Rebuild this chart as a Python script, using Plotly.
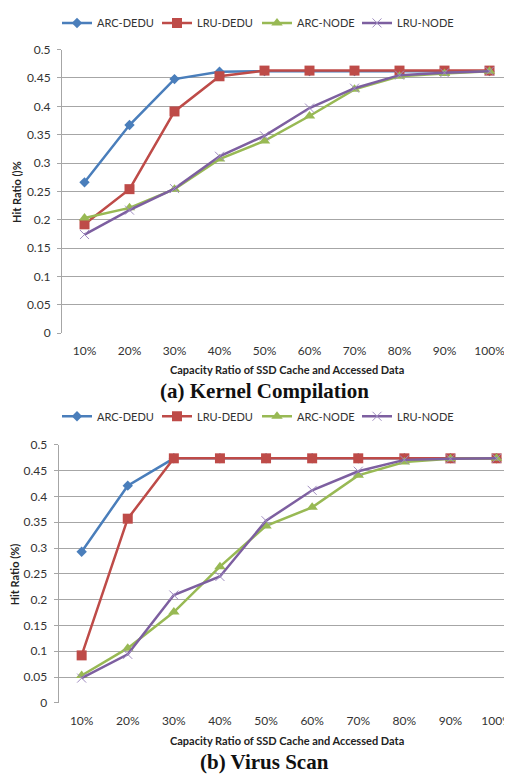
import plotly.graph_objects as go

categories = ["10%", "20%", "30%", "40%", "50%", "60%", "70%", "80%", "90%", "100%"]
series_names = ["ARC-DEDU", "LRU-DEDU", "ARC-NODE", "LRU-NODE"]

# (a) Kernel Compilation
kc_arc_dedu = [0.266, 0.367, 0.448, 0.461, 0.462, 0.462, 0.462, 0.462, 0.462, 0.462]
kc_lru_dedu = [0.192, 0.254, 0.391, 0.453, 0.463, 0.463, 0.463, 0.463, 0.463, 0.463]
kc_arc_node = [0.203, 0.221, 0.254, 0.307, 0.339, 0.383, 0.430, 0.453, 0.458, 0.462]
kc_lru_node = [0.174, 0.217, 0.255, 0.312, 0.348, 0.397, 0.432, 0.455, 0.459, 0.462]

# (b) Virus Scan
vs_arc_dedu = [0.293, 0.421, 0.474, 0.474, 0.474, 0.474, 0.474, 0.474, 0.474, 0.474]
vs_lru_dedu = [0.092, 0.357, 0.474, 0.474, 0.474, 0.474, 0.474, 0.474, 0.474, 0.474]
vs_arc_node = [0.053, 0.106, 0.176, 0.264, 0.343, 0.379, 0.441, 0.467, 0.473, 0.474]
vs_lru_node = [0.048, 0.094, 0.209, 0.245, 0.353, 0.412, 0.449, 0.471, 0.473, 0.474]

colors = ["#4A7EBB", "#BE4B48", "#98B954", "#7D5FA0"]
symbols = ["diamond", "square", "triangle-up", "x-thin"]
msizes = [8, 10, 10, 9]

FONT = "Lato"
W, H, OFF = 504, 766, 8   # page body margin of 8px


def xp(p):
    return (p - OFF) / W


def yp(p):
    return 1 - (p - OFF) / H


fig = go.Figure()

panels = [
    ([kc_arc_dedu, kc_lru_dedu, kc_arc_node, kc_lru_node], "x", "y", "legend"),
    ([vs_arc_dedu, vs_lru_dedu, vs_arc_node, vs_lru_node], "x2", "y2", "legend2"),
]
for data, xa, ya, lg in panels:
    for i, (name, vals) in enumerate(zip(series_names, data)):
        marker = dict(symbol=symbols[i], size=msizes[i], color=colors[i])
        if symbols[i] == "x-thin":
            marker["line"] = dict(color="#9F8CC0", width=1)
        fig.add_trace(go.Scatter(
            x=categories, y=vals, name=name, mode="lines+markers",
            line=dict(color=colors[i], width=2.5), marker=marker,
            xaxis=xa, yaxis=ya, legend=lg, cliponaxis=False,
        ))

ax_common = dict(
    type="category", showgrid=False, zeroline=False, showline=False,
    ticks="", tickfont=dict(family=FONT, size=12, color="#333333"),
    ticklabelstandoff=9, automargin=False,
)
ay_common = dict(
    range=[0, 0.5], dtick=0.05, showgrid=True, gridcolor="#A6A6A6", gridwidth=1,
    zeroline=False, showline=True, linecolor="#A6A6A6", linewidth=1,
    ticks="outside", ticklen=4, tickcolor="#A6A6A6",
    tickfont=dict(family=FONT, size=12, color="#333333"),
    ticklabelstandoff=4, automargin=False,
)

leg_common = dict(orientation="h", x=xp(57), xanchor="left", yanchor="middle",
                  font=dict(family=FONT, size=11, color="#333333"),
                  entrywidth=55, entrywidthmode="pixels", itemwidth=30,
                  bgcolor="rgba(0,0,0,0)", tracegroupgap=0)

fig.update_layout(
    width=W, height=H,
    margin=dict(l=0, r=0, t=0, b=0),
    paper_bgcolor="white", plot_bgcolor="white",
    xaxis=dict(**ax_common, domain=[xp(62), 1], range=[-0.5, 9.5], anchor="y"),
    yaxis=dict(**ay_common, domain=[yp(328), yp(41)], anchor="x"),
    xaxis2=dict(**ax_common, domain=[xp(58.6), 1], range=[-0.5, 9.335], anchor="y2"),
    yaxis2=dict(**ay_common, domain=[yp(702), yp(441)], anchor="x2"),
    legend=dict(**leg_common, y=yp(14)),
    legend2=dict(**leg_common, y=yp(412)),
    showlegend=True,
)

annotations = [
    dict(text="Capacity Ratio of SSD Cache and Accessed Data", x=xp(287), y=yp(365),
         font=dict(family=FONT, size=11, color="#222222"), bold=True),
    dict(text="(a) Kernel Compilation", x=xp(264), y=yp(386),
         font=dict(family="Liberation Serif", size=21, color="#111111"), bold=True),
    dict(text="Capacity Ratio of SSD Cache and Accessed Data", x=xp(287), y=yp(740),
         font=dict(family=FONT, size=11, color="#222222"), bold=True),
    dict(text="(b) Virus Scan", x=xp(264), y=yp(762),
         font=dict(family="Liberation Serif", size=21, color="#111111"), bold=True),
    dict(text="Hit Ratio ()%", x=xp(17), y=yp(185), textangle=-90,
         font=dict(family=FONT, size=11, color="#222222"), bold=True),
    dict(text="Hit Ratio (%)", x=xp(14), y=yp(572), textangle=-90,
         font=dict(family=FONT, size=11, color="#222222"), bold=True),
]
for a in annotations:
    bold = a.pop("bold", False)
    if bold:
        a["text"] = "<b>" + a["text"] + "</b>"
    fig.add_annotation(xref="paper", yref="paper", showarrow=False,
                       xanchor="center", yanchor="middle", **a)

fig.write_html("out.html")
